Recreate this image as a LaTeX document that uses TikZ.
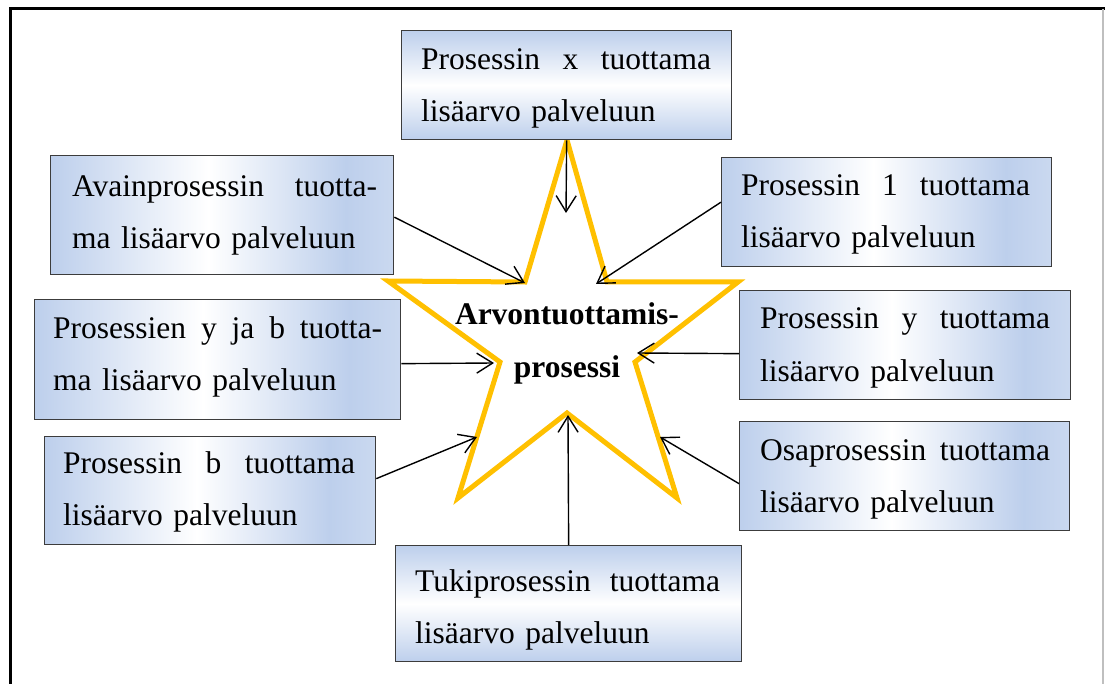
\documentclass[tikz,border=0pt]{standalone}
\usepackage{fontspec}
\setmainfont{Liberation Serif}
\usetikzlibrary{arrows.meta,calc}

\definecolor{boxblue}{RGB}{189,207,236}
\definecolor{boxline}{RGB}{60,60,60}
\definecolor{stargold}{RGB}{255,192,0}

% side boxes: blue at the edges, white band left of centre
\pgfdeclarehorizontalshading{sideband}{100bp}{%
  color(0bp)=(boxblue); color(25bp)=(boxblue); color(48bp)=(white);
  color(68bp)=(boxblue); color(75bp)=(boxblue!80!white); color(100bp)=(boxblue!80!white)}
% top and bottom boxes: blue top and bottom, white band in the middle
\pgfdeclareverticalshading{midband}{100bp}{%
  color(0bp)=(boxblue); color(25bp)=(boxblue); color(50bp)=(white);
  color(75bp)=(boxblue); color(100bp)=(boxblue)}

% first line of a box text, its words spread over the given width
\newcommand{\spreadline}[2]{\hbox to #1{#2}}

\begin{document}
\begin{tikzpicture}[x=1pt,y=-1pt,
  procbox/.style={draw=boxline,line width=1.3pt,rectangle,inner sep=0pt,anchor=north west},
  sidebox/.style={procbox,shade,shading=sideband},
  bandbox/.style={procbox,shade,shading=midband},
  boxtext/.style={anchor=base west,inner sep=0pt,align=left,text width=340pt,
    font=\fontsize{31.5}{52}\selectfont},
  feed/.style={line width=1.4pt,-{Straight Barb[length=16pt,width=20pt,line width=1.4pt]}},
]
\useasboundingbox (0,0) rectangle (1105,684);

% frame
\draw[line width=3pt] (10,684) -- (10,8.5) -- (1105,8.5);
\draw[black!25,line width=1.5pt] (1103,9) -- (1103,684);

% star
\draw[stargold,line width=5pt,fill=white,miter limit=10]
  (567,140) -- (607,282) -- (738,282) -- (635,362) -- (677,498)
  -- (567,413) -- (458,498) -- (500,362) -- (388,281) -- (525,282) -- cycle;
\node[inner sep=0pt,anchor=base,text width=300pt,align=center,
  font=\bfseries\fontsize{31.5}{53}\selectfont] (core) at (567,325)
  {Arvontuottamis-\\prosessi};

% boxes
\node[bandbox,minimum width=330pt,minimum height=109pt] (px)  at (401,30)  {};
\node[sidebox,minimum width=343pt,minimum height=119pt] (pa)  at (50,155)  {};
\node[sidebox,minimum width=330pt,minimum height=109pt] (p1)  at (721,157) {};
\node[sidebox,minimum width=366pt,minimum height=120pt] (pyb) at (34,299)  {};
\node[sidebox,minimum width=331pt,minimum height=109pt] (py)  at (739,290) {};
\node[sidebox,minimum width=331pt,minimum height=108pt] (pb)  at (44,436)  {};
\node[sidebox,minimum width=330pt,minimum height=109pt] (po)  at (739,421) {};
\node[bandbox,minimum width=346pt,minimum height=116pt] (pt)  at (395,545) {};

% box texts
\node[boxtext] (pxt) at (421,70)
  {\spreadline{290pt}{Prosessin \hfill x \hfill tuottama}\\lisäarvo palveluun};
\node[boxtext] (pat) at (72,197)
  {\spreadline{305pt}{Avainprosessin \hfill tuotta-}\\ma lisäarvo palveluun};
\node[boxtext] (p1t) at (741,196)
  {\spreadline{289pt}{Prosessin \hfill 1 \hfill tuottama}\\lisäarvo palveluun};
\node[boxtext] (pybt) at (53,338)
  {\spreadline{329pt}{Prosessien \hfill y \hfill ja \hfill b \hfill tuotta-}\\ma lisäarvo palveluun};
\node[boxtext] (pyt) at (760,329)
  {\spreadline{290pt}{Prosessin \hfill y \hfill tuottama}\\lisäarvo palveluun};
\node[boxtext] (pbt) at (63,473)
  {\spreadline{292pt}{Prosessin \hfill b \hfill tuottama}\\lisäarvo palveluun};
\node[boxtext] (pot) at (760,460)
  {\spreadline{290pt}{Osaprosessin \hfill tuottama}\\lisäarvo palveluun};
\node[boxtext] (ptt) at (415,591)
  {\spreadline{305pt}{Tukiprosessin \hfill tuottama}\\lisäarvo palveluun};

% arrow ends at the star
\coordinate (tipx)  at (566,213);
\coordinate (tipa)  at (525,283);
\coordinate (tip1)  at (596,284);
\coordinate (tipyb) at (494,363);
\coordinate (tipy)  at (637,353);
\coordinate (tipb)  at (477,437);
\coordinate (tipo)  at (660,437);
\coordinate (tipt)  at (568,415);

% connectors
\draw[feed] (px.south) -- (tipx);
\draw[feed] ($(pa.east)+(0,2)$) -- (tipa);
\draw[feed] ($(p1.west)+(0,-10)$) -- (tip1);
\draw[feed] ($(pyb.east)+(0,4)$) -- (tipyb);
\draw[feed] ($(py.west)+(0,8.5)$) -- (tipy);
\draw[feed] ($(pb.east)+(0,-12)$) -- (tipb);
\draw[feed] ($(po.west)+(0,7.5)$) -- (tipo);
\draw[feed] (pt.north) -- (tipt);
\end{tikzpicture}
\end{document}
